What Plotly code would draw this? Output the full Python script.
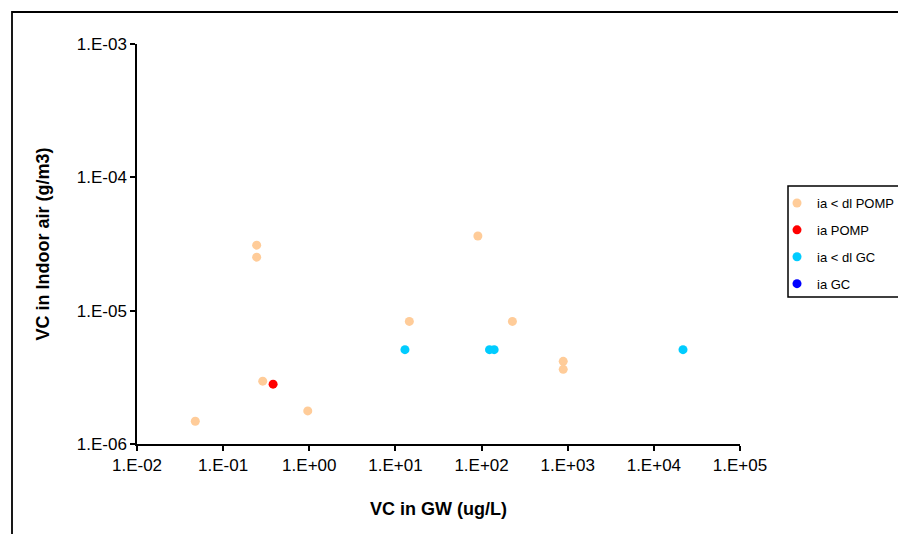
import plotly.graph_objects as go

# Vinyl chloride: groundwater concentration vs indoor air concentration
pomp_nd_gw = [0.245, 0.245, 0.288, 0.96, 0.0475, 90.6, 14.5, 228, 887, 887]
pomp_nd_ia = [3.10e-5, 2.52e-5, 2.96e-6, 1.77e-6, 1.48e-6, 3.63e-5, 8.31e-6, 8.31e-6, 4.17e-6, 3.63e-6]

pomp_gw = [0.38]
pomp_ia = [2.81e-6]

gc_nd_gw = [12.9, 123.6, 140, 21800]
gc_nd_ia = [5.1e-6, 5.1e-6, 5.1e-6, 5.1e-6]

# no detections by GC
gc_gw = [None]
gc_ia = [None]

x_tickvals = [1e-2, 1e-1, 1e0, 1e1, 1e2, 1e3, 1e4, 1e5]
x_ticktext = ["1.E-02", "1.E-01", "1.E+00", "1.E+01", "1.E+02", "1.E+03", "1.E+04", "1.E+05"]
y_tickvals = [1e-6, 1e-5, 1e-4, 1e-3]
y_ticktext = ["1.E-06", "1.E-05", "1.E-04", "1.E-03"]

FONT = "Liberation Sans, Arial, sans-serif"

series = [
    ("ia < dl POMP", pomp_nd_gw, pomp_nd_ia, "#FFCC99"),
    ("ia POMP", pomp_gw, pomp_ia, "#FF0000"),
    ("ia < dl GC", gc_nd_gw, gc_nd_ia, "#00CCFF"),
    ("ia GC", gc_gw, gc_ia, "#0000FF"),
]

fig = go.Figure()
for name, xs, ys, color in series:
    fig.add_trace(go.Scatter(
        x=xs, y=ys, mode="markers", name=name, legendgroup=name,
        marker=dict(color=color, size=9, line=dict(width=0)),
    ))

W, H = 898, 534
L, R, T, B = 137, 158, 44, 90
pw, ph = W - L - R, H - T - B


def px_x(px):
    return (px - L) / pw


def px_y(py):
    return (H - B - py) / ph


fig.update_layout(
    width=W, height=H,
    margin=dict(l=L, r=R, t=T, b=B, autoexpand=False),
    paper_bgcolor="white", plot_bgcolor="white",
    font=dict(family=FONT, size=14, color="black"),
    showlegend=True,
    legend=dict(
        x=px_x(777), y=px_y(188),
        xanchor="left", yanchor="top",
        borderwidth=0, bgcolor="rgba(0,0,0,0)",
        font=dict(family=FONT, size=13, color="black"),
        tracegroupgap=7, itemwidth=30,
    ),
    xaxis=dict(
        type="log", range=[-2, 5],
        tickvals=x_tickvals, ticktext=x_ticktext,
        showgrid=False, zeroline=False,
        showline=True, linecolor="black", linewidth=1.5,
        ticks="outside", ticklen=5, tickwidth=1.5, tickcolor="black",
        tickfont=dict(size=17),
        title=dict(text="<b>VC in GW (ug/L)</b>", font=dict(size=18), standoff=28),
    ),
    yaxis=dict(
        type="log", range=[-6, -3],
        tickvals=y_tickvals, ticktext=y_ticktext,
        showgrid=False, zeroline=False,
        showline=True, linecolor="black", linewidth=1.5,
        ticks="outside", ticklen=5, tickwidth=1.5, tickcolor="black",
        tickfont=dict(size=17),
        title=dict(text="<b>VC in Indoor air (g/m3)</b>", font=dict(size=18), standoff=22),
    ),
)

# Outer chart-area frame
fig.add_shape(
    type="rect", xref="paper", yref="paper",
    x0=px_x(12), x1=px_x(W + 20), y0=px_y(H + 20), y1=px_y(12),
    line=dict(color="black", width=1.8), fillcolor="rgba(0,0,0,0)", layer="below",
)

# Legend frame
fig.add_shape(
    type="rect", xref="paper", yref="paper",
    x0=px_x(788), x1=px_x(W + 20), y0=px_y(297), y1=px_y(186),
    line=dict(color="black", width=1.5), fillcolor="white", layer="below",
)

fig.write_html("out.html")
